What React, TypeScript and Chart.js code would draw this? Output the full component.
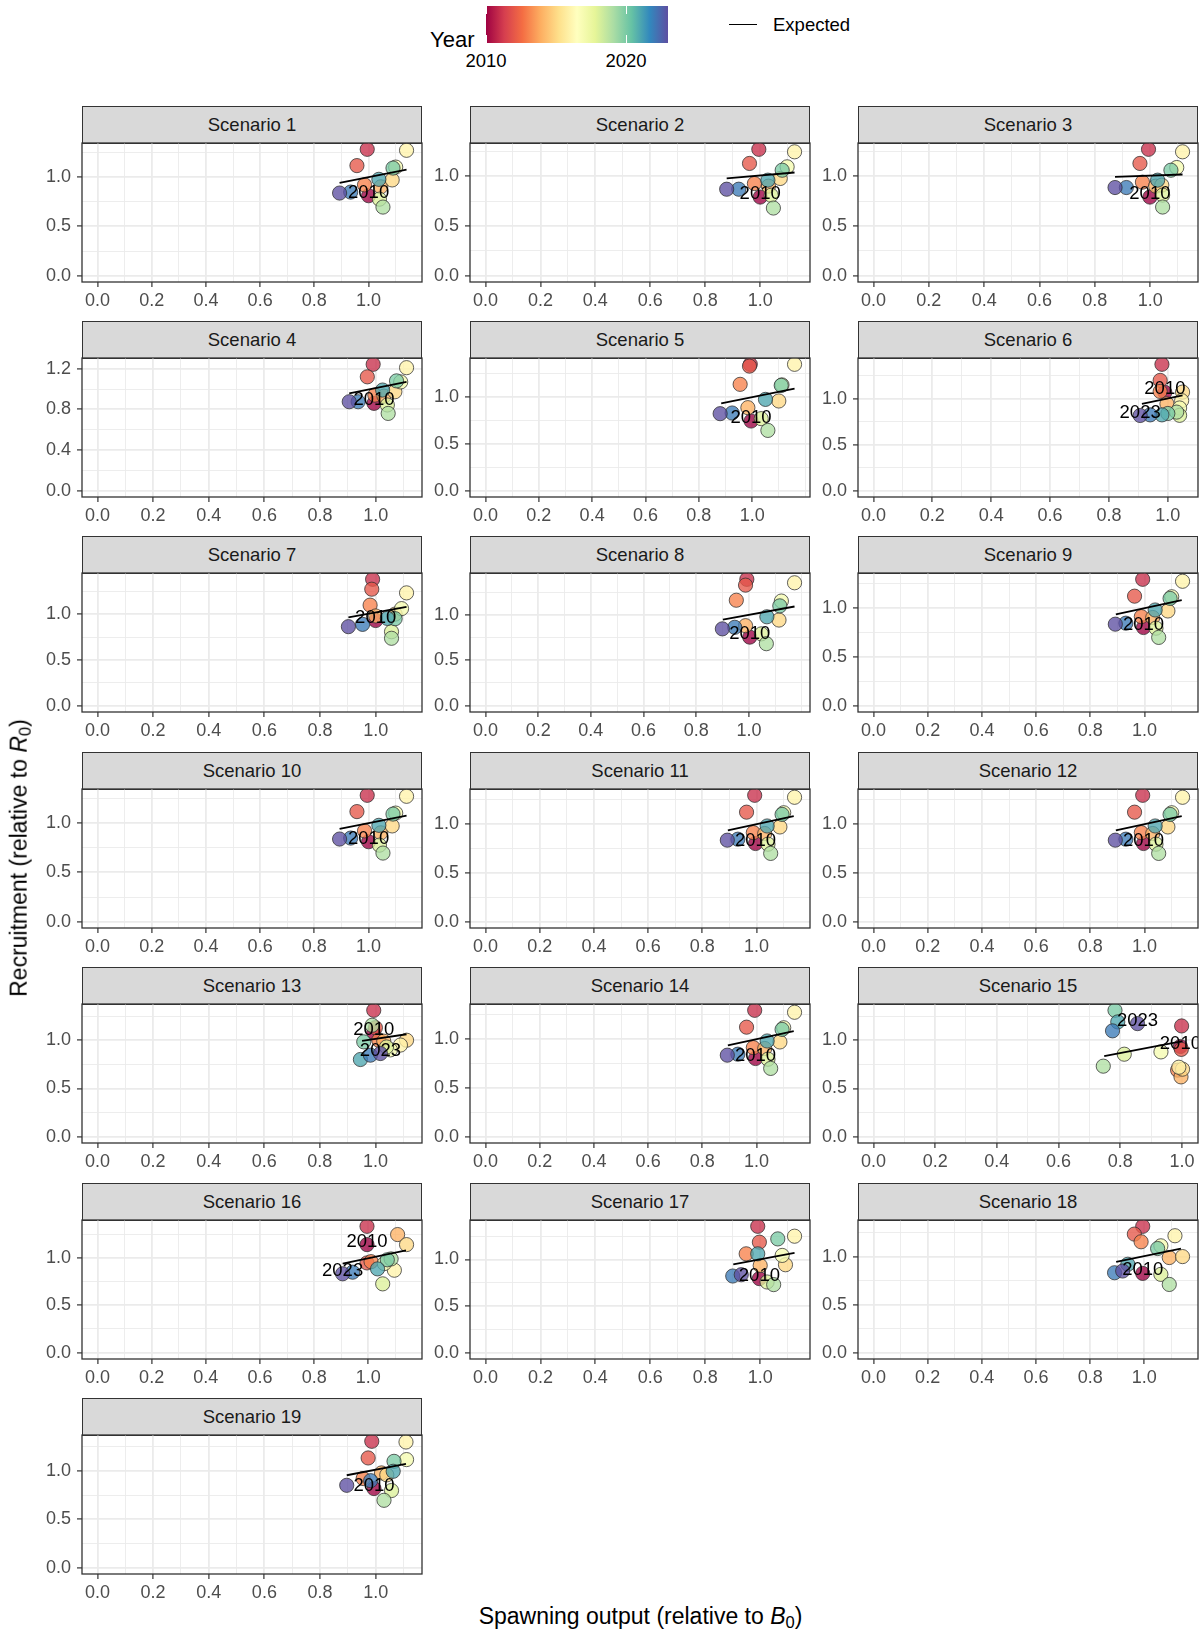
import React, { useEffect, useRef } from "react";
import { Chart, registerables } from "chart.js";

Chart.register(...registerables);

const FONT = '"Liberation Sans", Arial, Helvetica, sans-serif';
Chart.defaults.font.family = FONT;

// ---------- colour scale / legend ----------
const YEARS = [2010, 2011, 2012, 2013, 2014, 2015, 2016, 2017, 2018, 2019, 2020, 2021, 2022, 2023];
const SPECTRAL = ["#9E0142", "#D53E4F", "#F46D43", "#FDAE61", "#FEE08B", "#FFFFBF", "#E6F598", "#ABDDA4", "#66C2A5", "#3288BD", "#5E4FA2"];
const LEGEND_BREAKS = [2010, 2020];

// ---------- data: spawning output (x) and recruitment (y), years 2010..2023 ----------
const SSB_S1 = [1.000, 0.995, 0.957, 0.985, 1.045, 1.087, 1.140, 1.100, 1.040, 1.053, 1.090, 1.038, 0.934, 0.893];
const REC_S1 = [0.810, 1.280, 1.115, 0.920, 0.900, 0.970, 1.270, 1.100, 0.775, 0.695, 1.090, 0.976, 0.847, 0.837];
const EXPX_S1 = [0.893, 1.140];
const EXPY_S1 = [0.940, 1.075];

const SSB_S2 = [1.000, 0.995, 0.961, 0.979, 1.030, 1.073, 1.125, 1.098, 1.040, 1.048, 1.080, 1.028, 0.922, 0.878];
const REC_S2 = [0.790, 1.270, 1.128, 0.926, 0.900, 0.977, 1.245, 1.094, 0.808, 0.680, 1.060, 0.960, 0.869, 0.869];
const EXPX_S2 = [0.878, 1.125];
const EXPY_S2 = [0.977, 1.037];

const SSB_S3 = [0.999, 0.994, 0.963, 0.972, 1.020, 1.042, 1.117, 1.096, 1.045, 1.045, 1.075, 1.027, 0.914, 0.873];
const REC_S3 = [0.790, 1.270, 1.128, 0.940, 0.900, 0.910, 1.245, 1.087, 0.810, 0.690, 1.060, 0.960, 0.886, 0.886];
const EXPX_S3 = [0.873, 1.117];
const EXPY_S3 = [0.993, 1.017];

const SSB_S4 = [0.994, 0.991, 0.970, 0.997, 1.030, 1.069, 1.111, 1.090, 1.042, 1.045, 1.075, 1.025, 0.937, 0.905];
const REC_S4 = [0.859, 1.243, 1.120, 0.940, 0.930, 0.973, 1.210, 1.070, 0.843, 0.760, 1.080, 0.990, 0.875, 0.875];
const EXPX_S4 = [0.905, 1.111];
const EXPY_S4 = [0.957, 1.070];

const SSB_S5 = [0.996, 0.993, 0.990, 0.955, 0.984, 1.100, 1.159, 1.112, 1.034, 1.059, 1.109, 1.050, 0.925, 0.880];
const REC_S5 = [0.741, 1.344, 1.325, 1.131, 0.883, 0.954, 1.344, 1.125, 0.766, 0.641, 1.120, 0.971, 0.826, 0.819];
const EXPX_S5 = [0.884, 1.159];
const EXPY_S5 = [0.929, 1.085];

const SSB_S6 = [0.990, 0.980, 0.974, 0.974, 0.997, 1.050, 1.047, 1.040, 1.040, 1.030, 1.000, 0.980, 0.940, 0.906];
const REC_S6 = [1.070, 1.375, 1.200, 1.080, 0.945, 1.073, 0.980, 0.900, 0.820, 0.855, 0.840, 0.825, 0.825, 0.818];
const EXPX_S6 = [0.912, 1.050];
const EXPY_S6 = [0.945, 1.036];

const SSB_S7 = [1.000, 0.989, 0.986, 0.980, 1.000, 1.070, 1.111, 1.093, 1.057, 1.057, 1.070, 1.042, 0.953, 0.902];
const REC_S7 = [0.930, 1.380, 1.272, 1.098, 0.980, 1.000, 1.232, 1.060, 0.808, 0.736, 0.950, 0.953, 0.888, 0.863];
const EXPX_S7 = [0.902, 1.111];
const EXPY_S7 = [0.964, 1.080];

const SSB_S8 = [1.003, 0.992, 0.987, 0.952, 0.987, 1.114, 1.173, 1.123, 1.047, 1.066, 1.117, 1.068, 0.946, 0.899];
const REC_S8 = [0.754, 1.390, 1.326, 1.160, 0.880, 0.942, 1.352, 1.151, 0.790, 0.682, 1.098, 0.978, 0.862, 0.845];
const EXPX_S8 = [0.901, 1.173];
const EXPY_S8 = [0.946, 1.091];

const SSB_S9 = [0.996, 0.993, 0.963, 0.988, 1.030, 1.086, 1.140, 1.100, 1.042, 1.052, 1.094, 1.039, 0.931, 0.892];
const REC_S9 = [0.798, 1.290, 1.118, 0.909, 0.900, 0.967, 1.270, 1.112, 0.791, 0.697, 1.095, 0.977, 0.842, 0.832];
const EXPX_S9 = [0.894, 1.137];
const EXPY_S9 = [0.933, 1.078];

const SSB_S13 = [0.994, 0.994, 1.000, 1.012, 1.030, 1.112, 1.090, 1.054, 1.040, 0.988, 0.958, 0.946, 0.982, 1.018];
const REC_S13 = [1.080, 1.310, 1.130, 1.000, 0.990, 1.000, 0.950, 0.900, 0.930, 1.155, 0.983, 0.800, 0.845, 0.862];
const EXPX_S13 = [0.952, 1.112];
const EXPY_S13 = [0.993, 1.062];

const SSB_S15 = [0.995, 0.999, 0.998, 0.986, 0.997, 1.002, 0.990, 0.932, 0.813, 0.745, 0.783, 0.792, 0.775, 0.856];
const REC_S15 = [0.935, 1.148, 0.905, 0.690, 0.620, 0.700, 0.720, 0.879, 0.855, 0.731, 1.310, 1.190, 1.097, 1.172];
const EXPX_S15 = [0.748, 1.002];
const EXPY_S15 = [0.834, 0.990];

const SSB_S16 = [0.995, 0.995, 0.995, 1.010, 1.108, 1.141, 1.096, 1.059, 1.053, 1.084, 1.070, 1.034, 0.942, 0.905];
const REC_S16 = [1.140, 1.333, 0.947, 0.960, 1.246, 1.140, 0.870, 0.940, 0.726, 0.989, 0.980, 0.884, 0.849, 0.832];
const EXPX_S16 = [0.905, 1.139];
const EXPY_S16 = [0.940, 1.080];

const SSB_S17 = [0.997, 0.991, 0.997, 0.949, 1.000, 1.092, 1.125, 1.080, 1.025, 1.049, 1.064, 0.991, 0.900, 0.931];
const REC_S17 = [0.794, 1.355, 1.185, 1.060, 0.935, 0.943, 1.249, 1.043, 0.758, 0.730, 1.220, 1.060, 0.822, 0.836];
const EXPX_S17 = [0.902, 1.125];
const EXPY_S17 = [0.947, 1.071];

const SSB_S18 = [0.994, 0.994, 0.963, 0.988, 1.092, 1.141, 1.113, 1.061, 1.061, 1.092, 1.049, 0.939, 0.890, 0.920];
const REC_S18 = [0.825, 1.315, 1.234, 1.154, 0.990, 1.000, 1.217, 1.112, 0.815, 0.710, 1.084, 0.920, 0.832, 0.850];
const EXPX_S18 = [0.896, 1.135];
const EXPY_S18 = [0.944, 1.084];

const SSB_S19 = [0.994, 0.986, 0.973, 0.955, 1.021, 1.040, 1.109, 1.111, 1.057, 1.030, 1.066, 1.063, 0.982, 0.896];
const REC_S19 = [0.818, 1.307, 1.135, 0.922, 0.980, 0.960, 1.300, 1.118, 0.798, 0.697, 1.100, 0.997, 0.900, 0.852];
const EXPX_S19 = [0.896, 1.109];
const EXPY_S19 = [0.956, 1.073];

const LABELS_FIRST = [2010];
const LABELS_BOTH = [2010, 2023];
const X_MAJOR_STEP = 0.2;
const X_MAJOR_MAX = 1.0;

type PanelDef = {
  title: string;
  ssb: number[];
  rec: number[];
  expX: number[];
  expY: number[];
  labels: number[];
  yStep: number;
};

const PANELS: PanelDef[] = [
  { title: "Scenario 1", ssb: SSB_S1, rec: REC_S1, expX: EXPX_S1, expY: EXPY_S1, labels: LABELS_FIRST, yStep: 0.5 },
  { title: "Scenario 2", ssb: SSB_S2, rec: REC_S2, expX: EXPX_S2, expY: EXPY_S2, labels: LABELS_FIRST, yStep: 0.5 },
  { title: "Scenario 3", ssb: SSB_S3, rec: REC_S3, expX: EXPX_S3, expY: EXPY_S3, labels: LABELS_FIRST, yStep: 0.5 },
  { title: "Scenario 4", ssb: SSB_S4, rec: REC_S4, expX: EXPX_S4, expY: EXPY_S4, labels: LABELS_FIRST, yStep: 0.4 },
  { title: "Scenario 5", ssb: SSB_S5, rec: REC_S5, expX: EXPX_S5, expY: EXPY_S5, labels: LABELS_FIRST, yStep: 0.5 },
  { title: "Scenario 6", ssb: SSB_S6, rec: REC_S6, expX: EXPX_S6, expY: EXPY_S6, labels: LABELS_BOTH, yStep: 0.5 },
  { title: "Scenario 7", ssb: SSB_S7, rec: REC_S7, expX: EXPX_S7, expY: EXPY_S7, labels: LABELS_FIRST, yStep: 0.5 },
  { title: "Scenario 8", ssb: SSB_S8, rec: REC_S8, expX: EXPX_S8, expY: EXPY_S8, labels: LABELS_FIRST, yStep: 0.5 },
  { title: "Scenario 9", ssb: SSB_S9, rec: REC_S9, expX: EXPX_S9, expY: EXPY_S9, labels: LABELS_FIRST, yStep: 0.5 },
  { title: "Scenario 10", ssb: SSB_S1, rec: REC_S1, expX: EXPX_S1, expY: EXPY_S1, labels: LABELS_FIRST, yStep: 0.5 },
  { title: "Scenario 11", ssb: SSB_S9, rec: REC_S9, expX: EXPX_S9, expY: EXPY_S9, labels: LABELS_FIRST, yStep: 0.5 },
  { title: "Scenario 12", ssb: SSB_S9, rec: REC_S9, expX: EXPX_S9, expY: EXPY_S9, labels: LABELS_FIRST, yStep: 0.5 },
  { title: "Scenario 13", ssb: SSB_S13, rec: REC_S13, expX: EXPX_S13, expY: EXPY_S13, labels: LABELS_BOTH, yStep: 0.5 },
  { title: "Scenario 14", ssb: SSB_S9, rec: REC_S9, expX: EXPX_S9, expY: EXPY_S9, labels: LABELS_FIRST, yStep: 0.5 },
  { title: "Scenario 15", ssb: SSB_S15, rec: REC_S15, expX: EXPX_S15, expY: EXPY_S15, labels: LABELS_BOTH, yStep: 0.5 },
  { title: "Scenario 16", ssb: SSB_S16, rec: REC_S16, expX: EXPX_S16, expY: EXPY_S16, labels: LABELS_BOTH, yStep: 0.5 },
  { title: "Scenario 17", ssb: SSB_S17, rec: REC_S17, expX: EXPX_S17, expY: EXPY_S17, labels: LABELS_FIRST, yStep: 0.5 },
  { title: "Scenario 18", ssb: SSB_S18, rec: REC_S18, expX: EXPX_S18, expY: EXPY_S18, labels: LABELS_FIRST, yStep: 0.5 },
  { title: "Scenario 19", ssb: SSB_S19, rec: REC_S19, expX: EXPX_S19, expY: EXPY_S19, labels: LABELS_FIRST, yStep: 0.5 },
];

// ---------- layout ----------
const COL_LEFT = [82, 470, 858];
const PLOT_W = 340;
const PLOT_H = 139;
const TOP0 = 142.5;
const ROW_PITCH = 215.4;
const STRIP_H = 37;
const Y_W = 60;
const X_H = 34;
const PAD_T = 2;
const PAD_R = 3;

// ---------- helpers ----------
function hexToRgb(h: string) {
  const n = parseInt(h.slice(1), 16);
  return [(n >> 16) & 255, (n >> 8) & 255, n & 255];
}
function yearColor(y: number, alpha: number) {
  const t = ((y - YEARS[0]) / (YEARS[YEARS.length - 1] - YEARS[0])) * (SPECTRAL.length - 1);
  const i = Math.min(SPECTRAL.length - 2, Math.floor(t));
  const f = t - i;
  const a = hexToRgb(SPECTRAL[i]);
  const b = hexToRgb(SPECTRAL[i + 1]);
  const c = a.map((v, k) => Math.round(v + (b[k] - v) * f));
  return `rgba(${c[0]},${c[1]},${c[2]},${alpha})`;
}
function onStep(v: number, step: number) {
  const r = v / step;
  return Math.abs(r - Math.round(r)) < 1e-6;
}
function makeTicks(min: number, max: number, step: number) {
  const half = step / 2;
  const out: number[] = [];
  for (let i = Math.ceil(min / half - 1e-9); i * half <= max + 1e-9; i++) out.push(i * half);
  return out;
}
function expandedRange(values: number[]) {
  const lo = Math.min(0, ...values);
  const hi = Math.max(...values);
  const r = hi - lo;
  return [lo - 0.05 * r, hi + 0.05 * r];
}

function axisCommon(isMajor: (v: number) => boolean, isX: boolean) {
  return {
    type: "linear" as const,
    border: { display: false },
    grid: {
      color: "#EBEBEB",
      lineWidth: (ctx: any) => (ctx.tick && isMajor(ctx.tick.value) ? 1.8 : 0.9),
      drawTicks: true,
      tickLength: 5,
      tickWidth: 1.2,
      tickColor: (ctx: any) => (ctx.tick && isMajor(ctx.tick.value) ? "#333333" : "rgba(0,0,0,0)"),
    },
    ticks: {
      autoSkip: false,
      maxRotation: 0,
      minRotation: 0,
      padding: isX ? 3 : 6,
      color: "#4D4D4D",
      font: { size: 18, family: FONT },
      callback: (v: any) => (isMajor(Number(v)) ? Number(v).toFixed(1) : ""),
    },
  };
}

function Panel({ p, idx }: { p: PanelDef; idx: number }) {
  const ref = useRef<HTMLCanvasElement>(null);
  const col = idx % 3;
  const row = Math.floor(idx / 3);
  const pl = COL_LEFT[col];
  const pt = Math.round(TOP0 + ROW_PITCH * row);
  const cw = Y_W + PLOT_W + PAD_R;
  const ch = PAD_T + PLOT_H + X_H;

  useEffect(() => {
    if (!ref.current) return;
    const [xmin, xmax] = expandedRange([...p.ssb, ...p.expX]);
    const [ymin, ymax] = expandedRange([...p.rec, ...p.expY]);
    const xTicks = makeTicks(xmin, xmax, X_MAJOR_STEP);
    const yTicks = makeTicks(ymin, ymax, p.yStep);
    const xMajor = (v: number) => onStep(v, X_MAJOR_STEP) && v >= -1e-9 && v <= X_MAJOR_MAX + 1e-9;
    const yMajor = (v: number) => onStep(v, p.yStep);

    const deco = {
      id: "panelDeco",
      afterLayout(chart: any) {
        // pin the plotting area to the exact panel rectangle
        const left = Y_W, top = PAD_T, right = Y_W + PLOT_W, bottom = PAD_T + PLOT_H;
        Object.assign(chart.chartArea, { left, top, right, bottom, width: PLOT_W, height: PLOT_H });
        const sx = chart.scales.x;
        Object.assign(sx, { left, right, width: PLOT_W, top: bottom, bottom: bottom + X_H, height: X_H });
        sx.configure();
        const sy = chart.scales.y;
        Object.assign(sy, { left: 0, right: Y_W, width: Y_W, top, bottom, height: PLOT_H });
        sy.configure();
      },
      afterDatasetsDraw(chart: any) {
        const { ctx, chartArea, scales } = chart;
        ctx.save();
        ctx.beginPath();
        ctx.rect(chartArea.left, chartArea.top, chartArea.right - chartArea.left, chartArea.bottom - chartArea.top);
        ctx.clip();
        ctx.font = `18.5px ${FONT}`;
        ctx.fillStyle = "#000000";
        ctx.textAlign = "center";
        ctx.textBaseline = "middle";
        p.labels.forEach((yr) => {
          const i = YEARS.indexOf(yr);
          const px = scales.x.getPixelForValue(p.ssb[i]);
          const py = scales.y.getPixelForValue(p.rec[i]);
          ctx.fillText(String(yr), px, py - 3);
        });
        ctx.restore();
      },
      afterDraw(chart: any) {
        const { ctx, chartArea } = chart;
        ctx.save();
        ctx.strokeStyle = "#333333";
        ctx.lineWidth = 1.3;
        ctx.strokeRect(chartArea.left, chartArea.top, chartArea.right - chartArea.left, chartArea.bottom - chartArea.top);
        ctx.restore();
      },
    };

    const xAxis: any = axisCommon(xMajor, true);
    xAxis.min = xmin;
    xAxis.max = xmax;
    xAxis.afterBuildTicks = (s: any) => {
      s.ticks = xTicks.map((v) => ({ value: v }));
    };
    xAxis.afterFit = (s: any) => {
      s.height = X_H;
      s.paddingLeft = 0;
      s.paddingRight = 0;
      s.paddingTop = 0;
      s.paddingBottom = 0;
    };
    const yAxis: any = axisCommon(yMajor, false);
    yAxis.min = ymin;
    yAxis.max = ymax;
    yAxis.afterBuildTicks = (s: any) => {
      s.ticks = yTicks.map((v) => ({ value: v }));
    };
    yAxis.afterFit = (s: any) => {
      s.width = Y_W;
      s.paddingLeft = 0;
      s.paddingRight = 0;
      s.paddingTop = 0;
      s.paddingBottom = 0;
    };

    const chart = new Chart(ref.current, {
      type: "scatter",
      data: {
        datasets: [
          {
            label: "Expected",
            data: p.expX.map((x, i) => ({ x, y: p.expY[i] })),
            showLine: true,
            borderColor: "#000000",
            borderWidth: 1.8,
            pointRadius: 0,
            clip: 0,
          } as any,
          {
            label: "Observed",
            data: p.ssb.map((x, i) => ({ x, y: p.rec[i] })),
            backgroundColor: YEARS.map((y) => yearColor(y, 0.78)),
            borderColor: "rgba(45,45,45,0.75)",
            borderWidth: 1,
            pointRadius: 7.1,
            clip: 0,
          } as any,
        ],
      },
      options: {
        animation: false,
        responsive: false,
        maintainAspectRatio: false,
        events: [],
        layout: { autoPadding: false, padding: { top: PAD_T, right: PAD_R, left: 0, bottom: 0 } },
        plugins: { legend: { display: false }, tooltip: { enabled: false } },
        scales: { x: xAxis, y: yAxis },
      } as any,
      plugins: [deco],
    });
    return () => chart.destroy();
  }, []);

  return (
    <>
      <div
        style={{
          position: "absolute",
          left: pl,
          top: pt - STRIP_H,
          width: PLOT_W,
          height: STRIP_H + 1,
          boxSizing: "border-box",
          border: "1.3px solid #333333",
          background: "#D9D9D9",
          color: "#1A1A1A",
          fontSize: 18.5,
          lineHeight: `${STRIP_H - 2}px`,
          textAlign: "center",
          fontFamily: FONT,
        }}
      >
        {p.title}
      </div>
      <canvas
        ref={ref}
        width={cw}
        height={ch}
        style={{ position: "absolute", left: pl - Y_W, top: pt - PAD_T, width: cw, height: ch }}
      />
    </>
  );
}

export default function App() {
  const barLeft = 486;
  const barW = 182;
  const barTop = 6;
  const barH = 37;
  const yearToX = (y: number) => barLeft + ((y - YEARS[0]) / (YEARS[YEARS.length - 1] - YEARS[0])) * barW;
  const textBox = (extra: any) => ({ position: "absolute" as const, lineHeight: 1, whiteSpace: "nowrap" as const, fontFamily: FONT, ...extra });

  return (
    <div style={{ position: "absolute", left: 0, top: 0, width: 1204, height: 1631, background: "#FFFFFF", overflow: "hidden", fontFamily: FONT }}>
      {/* colour legend */}
      <div style={textBox({ left: 430, top: 40, transform: "translateY(-50%)", fontSize: 22, color: "#000" })}>Year</div>
      <div
        style={{
          position: "absolute",
          left: barLeft,
          top: barTop,
          width: barW,
          height: barH,
          background: `linear-gradient(to right, ${SPECTRAL.join(", ")})`,
        }}
      />
      {LEGEND_BREAKS.map((y) => (
        <React.Fragment key={y}>
          <div style={{ position: "absolute", left: yearToX(y) - 0.5, top: barTop, width: 1.2, height: 8, background: "#FFFFFF" }} />
          <div style={{ position: "absolute", left: yearToX(y) - 0.5, top: barTop + barH - 8, width: 1.2, height: 8, background: "#FFFFFF" }} />
          <div style={textBox({ left: yearToX(y), top: 61, transform: "translate(-50%, -50%)", fontSize: 18.5, color: "#000" })}>{y}</div>
        </React.Fragment>
      ))}
      {/* line legend */}
      <div style={{ position: "absolute", left: 729, top: 23.5, width: 28, height: 1.8, background: "#000" }} />
      <div style={textBox({ left: 773, top: 24.5, transform: "translateY(-50%)", fontSize: 18.5, color: "#000" })}>Expected</div>

      {PANELS.map((p, i) => (
        <Panel key={p.title} p={p} idx={i} />
      ))}

      {/* axis titles */}
      <div style={textBox({ left: 640.5, top: 1618, transform: "translate(-50%, -50%)", fontSize: 23, color: "#000" })}>
        Spawning output (relative to <i>B</i>
        <span style={{ fontSize: "0.72em", verticalAlign: "-0.25em" }}>0</span>)
      </div>
      <div style={textBox({ left: 21, top: 858, transform: "translate(-50%, -50%) rotate(-90deg)", fontSize: 23, color: "#000" })}>
        Recruitment (relative to <i>R</i>
        <span style={{ fontSize: "0.72em", verticalAlign: "-0.25em" }}>0</span>)
      </div>
    </div>
  );
}
